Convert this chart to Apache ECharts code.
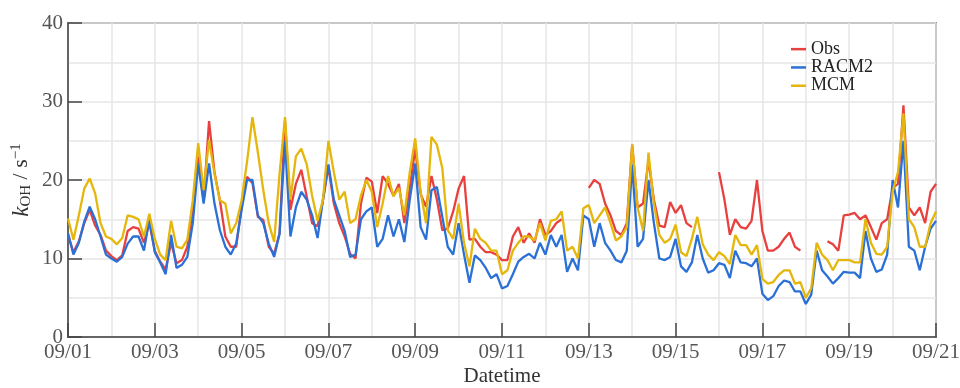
<!DOCTYPE html>
<html>
<head>
<meta charset="utf-8">
<script src="https://cdn.jsdelivr.net/npm/echarts@6/dist/echarts.min.js"></script>
<style>
  html, body { margin: 0; padding: 0; background: #fff; }
  #chart { width: 960px; height: 388px; }
</style>
</head>
<body>
<div id="chart"></div>
<script>
// 3-hourly values, 09/01 00:00 to 09/21 00:00 (161 points)
const obs = [
  13.0, 10.8, 12.2, 14.5, 16.2, 14.2, 13.0, 11.0,
  10.3, 9.8, 10.4, 13.5, 14.0, 13.8, 12.0, 14.5,
  11.0, 9.6, 8.6, 12.0, 9.4, 9.8, 11.5, 16.2,
  23.0, 17.4, 27.5, 21.0, 17.4, 12.8, 11.5, 11.5,
  16.6, 20.4, 19.6, 15.3, 14.9, 11.5, 10.6, 13.2,
  27.5, 16.2, 19.5, 21.3, 17.9, 14.5, 14.1, 17.4,
  21.7, 17.0, 14.5, 12.8, 10.6, 10.0, 17.0, 20.3,
  19.8, 15.8, 20.5, 19.5, 18.0, 19.5, 14.5, 19.0,
  24.0, 18.2, 16.6, 20.5, 17.5, 13.6, 13.8, 16.0,
  18.9, 20.5, 12.4, 12.5, 11.5, 10.8, 10.8, 10.5,
  9.8, 9.8, 12.8, 14.0, 12.0, 13.2, 12.0, 15.0,
  13.0, 13.5, 14.5, 15.0, null, null, null, null,
  19.0, 20.0, 19.5, 17.0, 15.5, 13.5, 13.0, 14.5,
  24.5, 16.5, 17.0, 22.5, 17.5, 14.2, 14.0, 17.2,
  15.8, 16.8, 14.5, 14.0, null, null, null, null,
  21.0, 17.5, 13.0, 15.0, 14.0, 13.8, 14.8, 20.0,
  13.5, 11.0, 11.0, 11.5, 12.5, 13.3, 11.5, 11.0,
  null, null, null, null, 12.2, 11.8, 11.0, 15.5,
  15.6, 15.8, 15.0, 15.5, 14.0, 12.4, 14.5, 15.0,
  19.0, 19.5, 29.5, 16.5, 15.5, 16.5, 14.5, 18.5,
  19.5
];
const racm2 = [
  13.2, 10.5, 12.0, 14.7, 16.6, 15.0, 12.8, 10.5,
  10.0, 9.6, 10.2, 11.9, 12.8, 12.8, 11.0, 15.0,
  10.8, 9.5, 8.0, 13.0, 8.8, 9.2, 10.2, 14.5,
  22.1, 17.0, 22.1, 17.0, 13.6, 11.5, 10.5, 11.9,
  16.2, 20.0, 20.0, 15.5, 14.5, 11.9, 10.2, 13.2,
  25.0, 12.8, 16.5, 18.5, 17.5, 15.5, 12.6, 17.5,
  22.0, 17.5, 15.5, 13.5, 10.2, 10.5, 15.0, 16.0,
  16.5, 11.5, 12.5, 15.5, 12.8, 15.0, 12.1, 17.5,
  22.1, 14.0, 12.4, 18.7, 19.1, 15.3, 11.5, 10.5,
  14.5, 10.5, 6.9, 10.4, 9.8, 8.8, 7.5, 8.0,
  6.2, 6.5, 8.0, 9.6, 10.2, 10.6, 10.0, 12.0,
  10.5, 13.0, 11.5, 13.0, 8.3, 10.0, 8.5, 15.5,
  15.0, 11.5, 14.5, 12.0, 11.0, 9.8, 9.5, 11.0,
  22.0, 11.5, 12.5, 20.0, 14.5, 10.0, 9.8, 10.2,
  12.5, 9.0, 8.3, 9.5, 13.0, 10.0, 8.2, 8.5,
  9.4, 9.2, 7.5, 11.0, 9.5, 9.4, 9.0, 10.0,
  5.5, 4.7, 5.2, 6.5, 7.2, 7.0, 5.8, 5.8,
  4.2, 5.4, 11.0, 8.5, 7.7, 6.8, 7.5, 8.3,
  8.2, 8.2, 7.5, 13.5, 10.0, 8.3, 8.6, 10.5,
  20.0, 16.5, 25.0, 11.5, 11.0, 8.5, 11.5, 13.8,
  14.8
];
const mcm = [
  15.1, 12.4, 15.5, 18.9, 20.2, 18.3, 14.5, 12.8,
  12.5, 11.8, 12.6, 15.5, 15.3, 15.0, 12.8, 15.7,
  12.5, 10.5, 9.8, 14.8, 11.5, 11.3, 12.4, 17.4,
  24.7, 18.7, 25.1, 20.8, 17.4, 17.0, 13.2, 14.5,
  17.4, 22.3, 28.0, 23.5, 18.7, 14.5, 12.1, 20.8,
  28.0, 17.5, 23.0, 24.0, 22.0, 18.0, 14.8, 17.5,
  25.0, 21.0, 17.5, 18.5, 14.5, 15.0, 18.0, 20.0,
  18.5, 14.0, 17.0, 20.5, 17.9, 19.0, 15.5, 21.0,
  25.3, 18.5, 14.5, 25.5, 24.5, 21.5, 13.6, 12.5,
  17.0, 12.0, 9.0, 13.8, 12.5, 12.0, 11.0, 11.0,
  8.0, 8.5, 11.0, 12.0, 12.8, 12.8, 12.3, 14.5,
  12.3, 14.8, 15.0, 16.0, 11.0, 11.5, 10.0, 16.4,
  16.8, 14.5, 15.5, 16.5, 14.5, 12.3, 12.8, 14.0,
  24.5, 16.5, 13.5, 23.5, 17.0, 13.0, 12.0, 12.5,
  14.3, 10.8, 10.3, 12.5, 15.3, 11.8, 10.5, 9.8,
  10.8, 10.3, 9.3, 13.0, 11.7, 11.7, 10.5, 11.7,
  7.4, 6.8, 7.0, 7.9, 8.5, 8.5, 6.8, 7.0,
  5.0, 6.2, 12.0, 10.5, 9.8, 8.5, 9.8, 9.8,
  9.8, 9.5, 9.5, 15.0, 12.0, 10.6, 10.5, 11.5,
  18.5, 21.0, 28.5, 15.0, 14.0, 11.5, 11.5, 14.5,
  16.0
];
const tickLabels = ['09/01','09/03','09/05','09/07','09/09','09/11','09/13','09/15','09/17','09/19','09/21'];
const seriesNames = ['Obs', 'RACM2', 'MCM'];
const colors = ['#e8403f', '#2a70d6', '#e5b60b'];

const stepHours = 3;
const hours = obs.map((_, i) => i * stepHours);
const toPairs = arr => arr.map((v, i) => [hours[i], v]);

const serif = 'Liberation Serif';
const chart = echarts.init(document.getElementById('chart'), null, { renderer: 'canvas' });

chart.setOption({
  animation: false,
  backgroundColor: '#ffffff',
  color: colors,
  grid: {
    left: 68, right: 24, top: 23, bottom: 51,
    outerBoundsMode: 'none',
    containLabel: false,
    show: true, borderColor: '#444', borderWidth: 1.5, backgroundColor: 'transparent'
  },
  legend: {
    orient: 'vertical',
    left: 786, top: 35,
    itemWidth: 15, itemHeight: 2.5,
    itemGap: 0,
    icon: 'rect',
    data: seriesNames,
    textStyle: { fontFamily: serif, fontSize: 18, color: '#222', lineHeight: 18.3 }
  },
  xAxis: {
    type: 'value',
    min: 0, max: 480, interval: 48,
    name: 'Datetime',
    nameLocation: 'middle',
    nameMoveOverlap: false,
    nameGap: 29,
    nameTextStyle: { fontFamily: serif, fontSize: 21, color: '#333' },
    axisLine: { show: true, lineStyle: { color: '#444', width: 1.5 } },
    axisTick: { show: true, inside: true, length: 14, lineStyle: { color: '#444', width: 1.5 } },
    axisLabel: {
      fontFamily: serif, fontSize: 21, color: '#555', margin: 5,
      formatter: v => tickLabels[Math.round(v / 48)]
    },
    splitLine: { show: true, lineStyle: { color: '#e6e6e6', width: 1.5 } },
    minorTick: { show: false, splitNumber: 2 },
    minorSplitLine: { show: true, lineStyle: { color: '#e6e6e6', width: 1.5 } }
  },
  yAxis: {
    type: 'value',
    min: 0, max: 40, interval: 10,
    name: '{k|k}{sub|OH}{n| / s}{sup|\u22121}',
    nameLocation: 'middle',
    nameMoveOverlap: false,
    nameGap: 34,
    nameRotate: 90,
    nameTextStyle: {
      fontFamily: serif, fontSize: 22, color: '#333',
      rich: {
        k: { fontFamily: serif, fontSize: 23, fontStyle: 'italic', color: '#333' },
        sub: { fontFamily: serif, fontSize: 15, color: '#333', padding: [10, 0, 0, 0] },
        n: { fontFamily: serif, fontSize: 22, color: '#333' },
        sup: { fontFamily: serif, fontSize: 15, color: '#333', padding: [0, 0, 10, 0] }
      }
    },
    axisLine: { show: true, lineStyle: { color: '#444', width: 1.5 } },
    axisTick: { show: true, inside: true, length: 14, lineStyle: { color: '#444', width: 1.5 } },
    axisLabel: { fontFamily: serif, fontSize: 21, color: '#555', margin: 5 },
    splitLine: { show: true, lineStyle: { color: '#e6e6e6', width: 1.5 } },
    minorTick: { show: false, splitNumber: 2 },
    minorSplitLine: { show: true, lineStyle: { color: '#e6e6e6', width: 1.5 } }
  },
  series: [
    { name: seriesNames[0], type: 'line', data: toPairs(obs), showSymbol: false, connectNulls: false,
      lineStyle: { width: 2.3, color: colors[0] }, itemStyle: { color: colors[0] } },
    { name: seriesNames[1], type: 'line', data: toPairs(racm2), showSymbol: false,
      lineStyle: { width: 2.3, color: colors[1] }, itemStyle: { color: colors[1] } },
    { name: seriesNames[2], type: 'line', data: toPairs(mcm), showSymbol: false,
      lineStyle: { width: 2.3, color: colors[2] }, itemStyle: { color: colors[2] } }
  ]
});
</script>
</body>
</html>
